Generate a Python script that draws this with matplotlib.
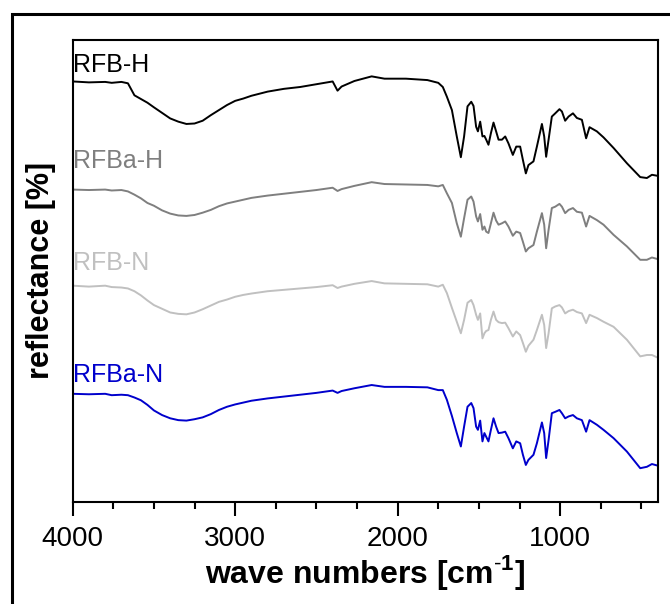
import numpy as np
import matplotlib
matplotlib.use("Agg")
import matplotlib.pyplot as plt
from matplotlib.patches import Rectangle
from matplotlib.ticker import MultipleLocator

plt.rcParams['font.family'] = 'Liberation Sans'
plt.rcParams['mathtext.fontset'] = 'custom'
plt.rcParams['mathtext.rm'] = 'Liberation Sans'
plt.rcParams['mathtext.bf'] = 'Liberation Sans:bold'

# -----------------------------
# Spectra (stacked, arbitrary offsets)
# -----------------------------
wavenumber = [4000, 3900, 3800, 3760, 3700, 3660, 3620, 3580, 3540, 3500,
              3450, 3400, 3350, 3300, 3250, 3200, 3150, 3100, 3050, 3000,
              2950, 2900, 2800, 2700, 2600, 2500, 2400, 2370, 2345, 2266,
              2160, 2081, 1949, 1817, 1750, 1722, 1697, 1666, 1636, 1611,
              1591, 1570, 1547, 1533, 1517, 1506, 1492, 1478, 1466, 1455,
              1441, 1426, 1410, 1394, 1379, 1358, 1338, 1318, 1291, 1270,
              1246, 1229, 1211, 1195, 1164, 1143, 1112, 1098, 1086, 1071,
              1051, 1030, 1004, 989, 969, 948, 921, 897, 866, 840,
              819, 774, 733, 671, 589, 507, 466, 435, 404]

rfb_h = [91.0, 90.8, 90.9, 90.7, 90.9, 90.6, 88.0, 87.2, 86.4, 85.4,
         84.2, 83.0, 82.3, 81.8, 81.9, 82.5, 83.7, 84.8, 85.9, 86.8,
         87.3, 87.9, 88.8, 89.4, 89.8, 90.4, 91.0, 89.0, 89.9, 91.1,
         92.1, 91.6, 91.6, 91.3, 90.7, 89.8, 87.7, 84.8, 79.1, 74.6,
         79.1, 85.6, 86.6, 85.7, 81.2, 80.2, 82.3, 79.1, 79.2, 78.4,
         77.3, 79.8, 82.1, 80.2, 78.4, 78.4, 79.1, 77.6, 75.1, 76.9,
         76.9, 74.0, 71.1, 72.9, 73.7, 76.9, 81.8, 79.1, 74.7, 78.4,
         83.4, 84.1, 85.0, 84.5, 82.5, 83.4, 84.1, 83.1, 82.7, 78.7,
         81.1, 80.2, 78.9, 76.6, 73.3, 70.3, 70.1, 70.8, 70.6]

rfba_h = [67.6, 67.5, 67.6, 67.4, 67.5, 67.2, 66.5, 65.7, 64.7, 64.1,
          63.1, 62.4, 62.0, 61.9, 62.1, 62.6, 63.2, 64.0, 64.6, 65.0,
          65.4, 65.8, 66.3, 66.7, 67.1, 67.5, 68.0, 67.3, 67.7, 68.4,
          69.2, 68.8, 68.7, 68.6, 68.3, 68.6, 66.8, 64.7, 60.3, 57.4,
          61.4, 65.4, 66.1, 65.0, 61.8, 60.7, 62.3, 58.9, 59.6, 58.5,
          58.2, 60.3, 62.6, 60.9, 60.0, 60.3, 60.7, 59.6, 57.6, 58.5,
          58.2, 56.3, 54.2, 54.9, 55.6, 58.5, 62.5, 60.0, 54.9, 58.9,
          63.6, 63.9, 64.5, 63.9, 62.5, 63.2, 63.6, 62.8, 62.6, 59.6,
          61.9, 61.0, 60.0, 57.8, 55.3, 52.4, 52.4, 52.9, 52.6]

rfb_n = [46.8, 46.6, 46.8, 46.5, 46.4, 46.2, 45.6, 44.7, 43.6, 42.6,
         41.8, 41.0, 40.7, 40.6, 41.0, 41.7, 42.5, 43.3, 43.8, 44.4,
         44.8, 45.1, 45.6, 45.9, 46.2, 46.5, 46.9, 46.3, 46.6, 47.2,
         47.8, 47.3, 47.2, 47.1, 46.6, 47.0, 45.2, 42.0, 39.0, 36.5,
         39.4, 43.1, 43.7, 42.6, 40.5, 39.4, 40.8, 35.4, 36.5, 37.0,
         37.2, 39.4, 41.2, 39.4, 38.9, 38.7, 38.8, 37.6, 35.8, 36.9,
         36.1, 34.4, 32.5, 33.8, 35.1, 37.2, 40.5, 38.3, 33.3, 36.5,
         41.9, 42.3, 42.6, 42.1, 40.8, 41.3, 41.6, 41.1, 40.8, 38.7,
         40.5, 39.8, 39.0, 37.9, 35.1, 31.5, 31.8, 31.8, 31.3]

rfba_n = [23.4, 23.3, 23.4, 23.1, 23.2, 23.1, 22.6, 22.0, 21.0, 19.8,
          18.8, 18.1, 17.7, 17.6, 17.9, 18.3, 19.0, 19.9, 20.6, 21.1,
          21.5, 21.9, 22.4, 22.8, 23.2, 23.6, 24.1, 23.6, 24.0, 24.6,
          25.3, 24.9, 24.9, 24.8, 24.2, 24.2, 22.1, 18.6, 14.9, 12.0,
          16.3, 20.6, 21.4, 20.3, 16.3, 15.6, 17.6, 13.1, 14.9, 14.1,
          13.1, 15.6, 18.1, 16.3, 14.9, 15.0, 15.2, 13.8, 11.6, 13.1,
          12.7, 10.2, 8.0, 9.1, 10.2, 12.7, 17.2, 14.9, 9.5, 13.4,
          19.2, 19.5, 19.9, 19.2, 18.1, 18.5, 18.8, 18.1, 17.7, 15.2,
          17.7, 16.7, 15.6, 13.8, 10.9, 7.3, 7.6, 8.2, 7.9]

samples = ['RFB-H', 'RFBa-H', 'RFB-N', 'RFBa-N']
series = [rfb_h, rfba_h, rfb_n, rfba_n]
colors = ['#000000', '#7f7f7f', '#c0c0c0', '#0000cc']
label_y = [94.6, 73.8, 51.7, 27.4]

# -----------------------------
# Plot
# -----------------------------
fig = plt.figure(figsize=(6.70, 6.04), dpi=100)
ax = fig.add_axes([0.1085, 0.169, 0.873, 0.765])

for name, vals, c, ly in zip(samples, series, colors, label_y):
    ax.plot(wavenumber, vals, color=c, lw=1.4, solid_joinstyle='round')
    ax.text(4000, ly, name, color=c, fontsize=18, ha='left', va='center')

ax.set_xlim(4000, 400)
ax.set_ylim(0, 100)
ax.xaxis.set_major_locator(MultipleLocator(1000))
ax.xaxis.set_minor_locator(MultipleLocator(250))
ax.tick_params(axis='x', which='major', direction='out', length=10, width=1.5,
               labelsize=20, pad=7)
ax.tick_params(axis='x', which='minor', direction='out', length=5, width=1.5)
ax.tick_params(axis='y', which='both', left=False, labelleft=False)
for s in ax.spines.values():
    s.set_linewidth(1.5)

ax.set_xlabel(r'wave numbers [cm$^{\mathbf{\text{-}1}}$]', fontsize=23,
              fontweight='bold', labelpad=1)
ax.set_ylabel('reflectance [%]', fontsize=22, fontweight='bold')
ax.yaxis.set_label_coords(-0.029, 0.5)

# frame around the whole figure
fig.patches.append(Rectangle((0.018, -0.1), 1.5, 1.0768, transform=fig.transFigure,
                             fill=False, lw=2.2, edgecolor='black'))

plt.savefig('out.png', dpi=100)
plt.close()
